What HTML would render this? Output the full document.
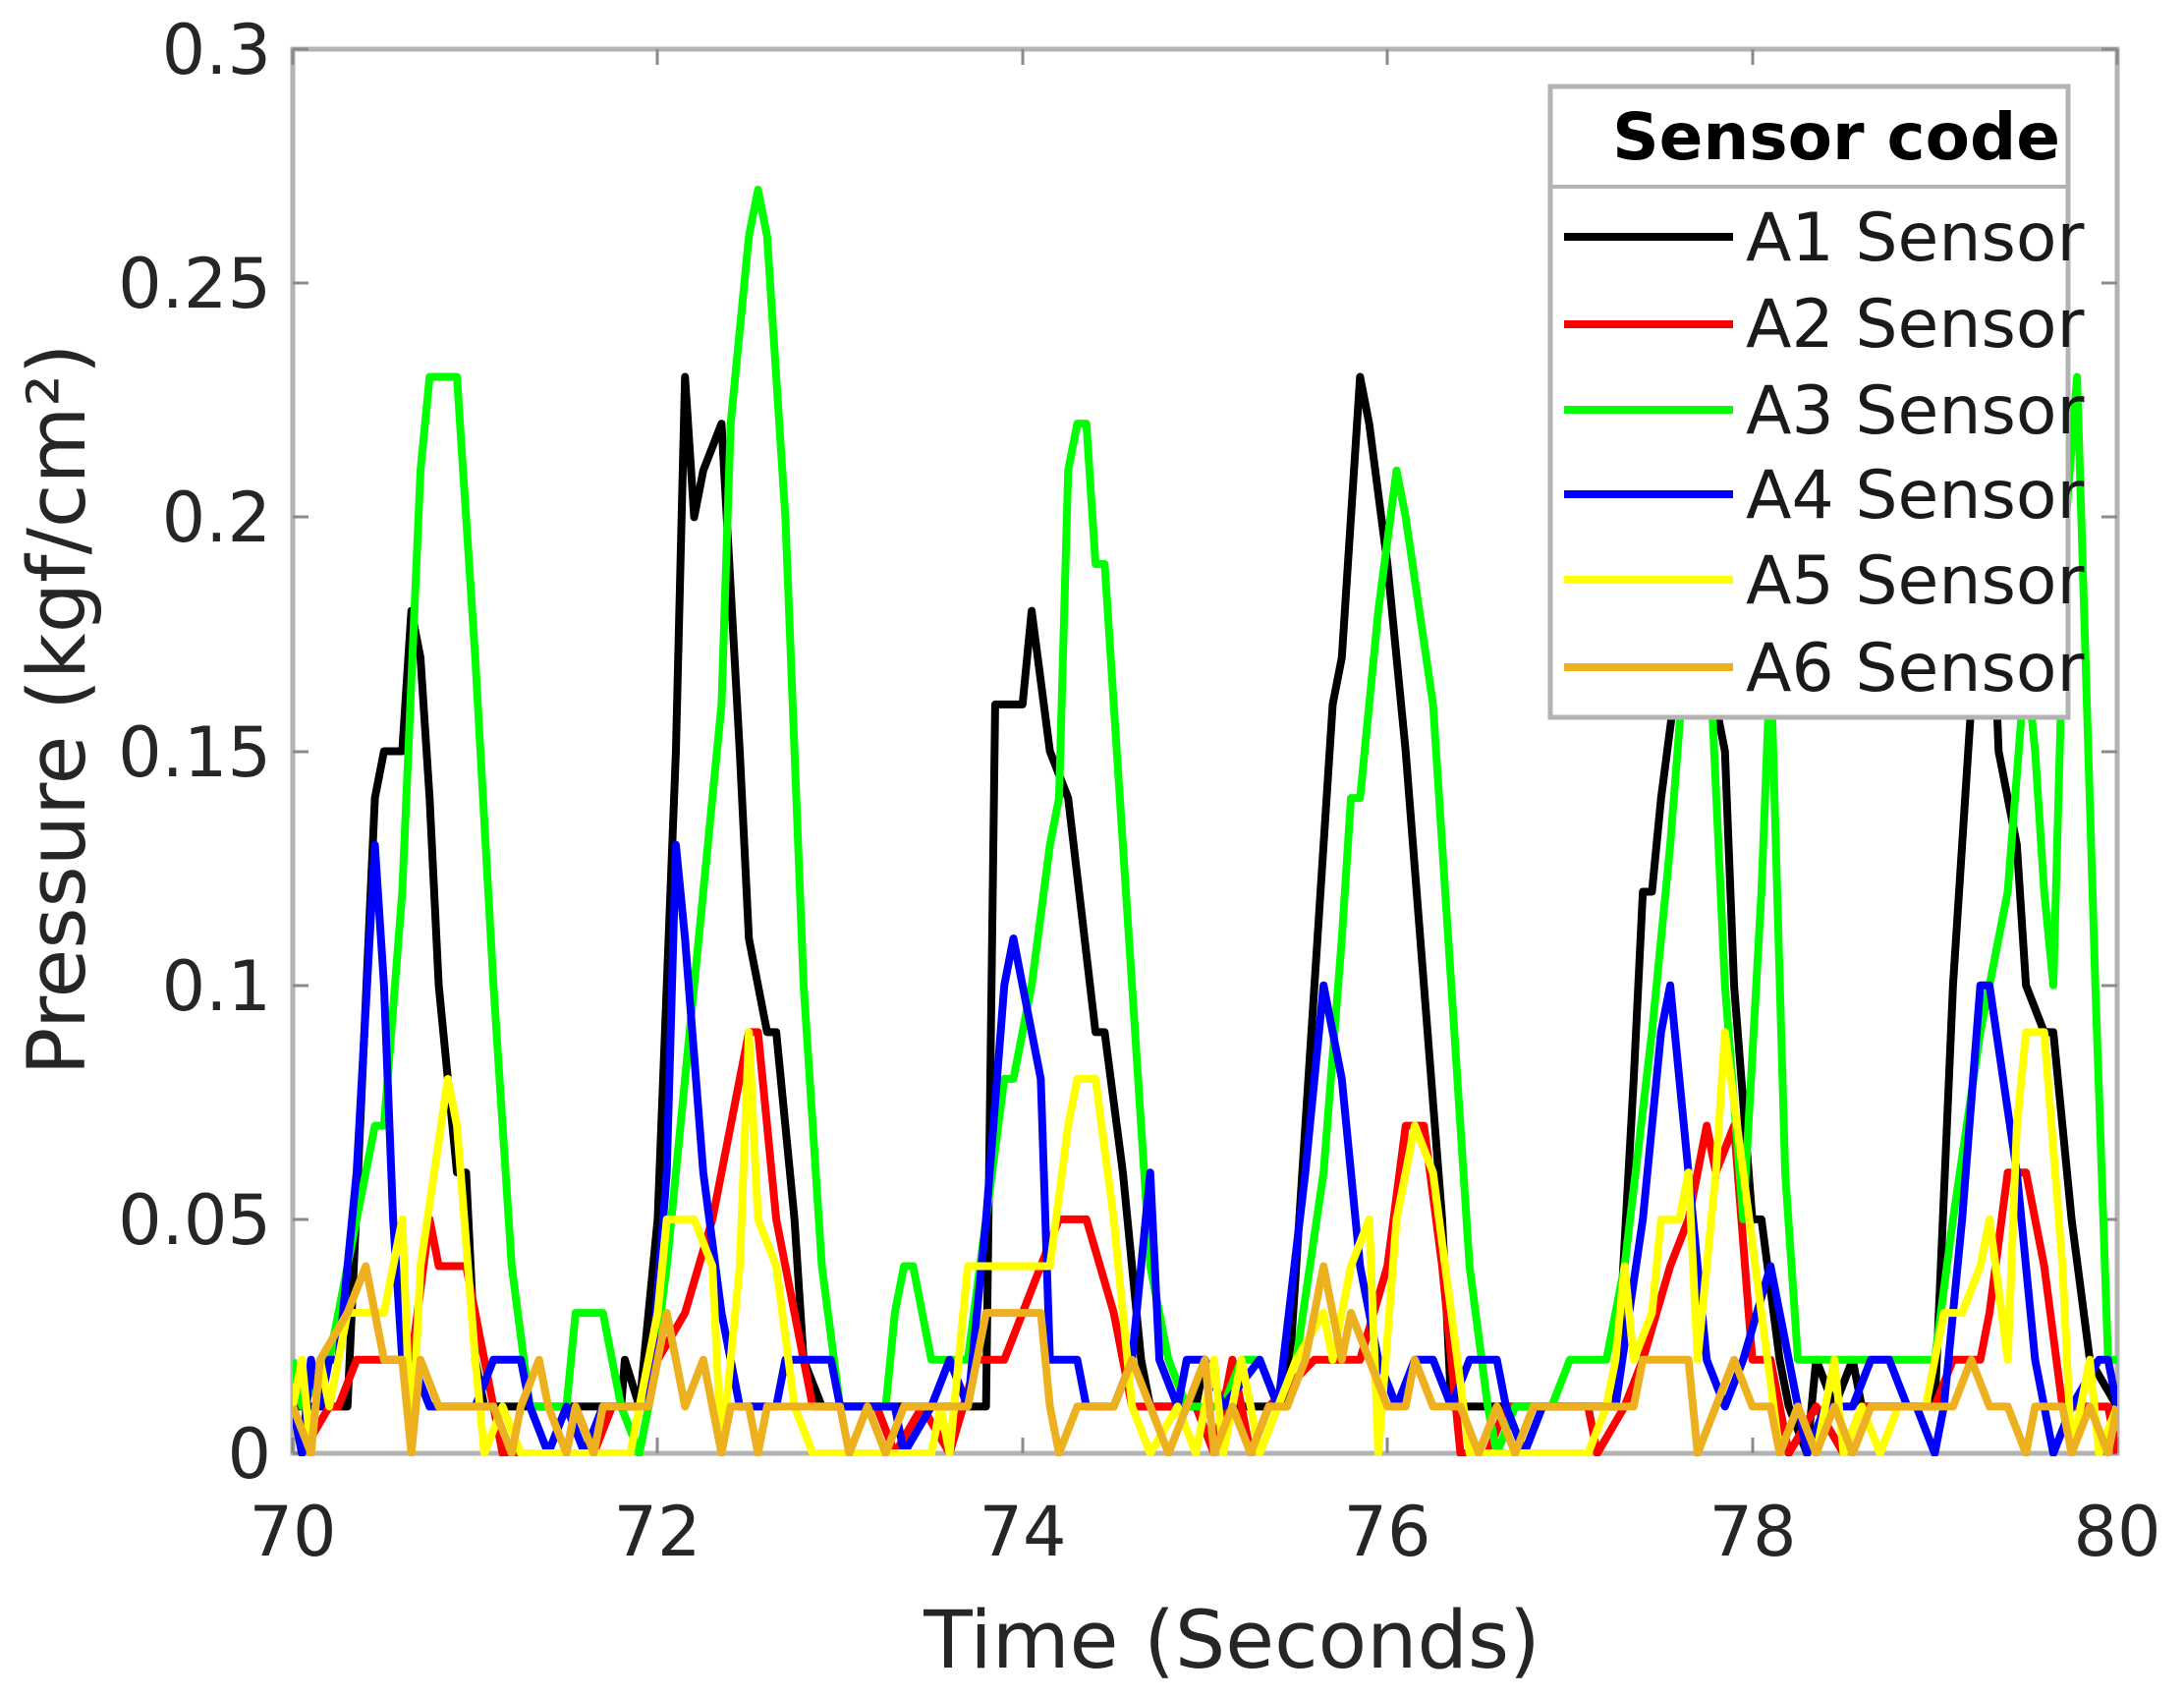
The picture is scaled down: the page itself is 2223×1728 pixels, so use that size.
<!DOCTYPE html>
<html><head><meta charset="utf-8"><style>
html,body{margin:0;padding:0;background:#fff;}
svg{display:block;font-family:"DejaVu Sans","Liberation Sans",sans-serif;}
</style></head><body>
<svg width="2223" height="1728" viewBox="0 0 2223 1728" xmlns="http://www.w3.org/2000/svg">
<defs><clipPath id="c"><rect x="298" y="50" width="1857" height="1432"/></clipPath></defs>
<rect x="298" y="50" width="1857" height="1429" fill="#fff" stroke="#b3b3b3" stroke-width="5"/>
<g stroke="#8a8a8a" stroke-width="3">
<path d="M298 1479h16M298 1241h16M298 1003h16M298 765h16M298 526h16M298 288h16M298 50h16"/>
<path d="M2155 1479h-16M2155 1241h-16M2155 1003h-16M2155 765h-16M2155 526h-16M2155 288h-16M2155 50h-16"/>
<path d="M298 1479v-16M669 1479v-16M1041 1479v-16M1412 1479v-16M1784 1479v-16M2155 1479v-16"/>
<path d="M298 50v16M669 50v16M1041 50v16M1412 50v16M1784 50v16M2155 50v16"/>
</g>
<g clip-path="url(#c)" fill="none" stroke-width="8" stroke-linejoin="round">
<g transform="translate(298,1479) scale(185.7,-4.763)">
<polyline vector-effect="non-scaling-stroke" stroke="#000" points="0,10 0.3,10 0.45,140 0.5,150 0.6,150 0.65,180 0.7,170 0.75,140 0.8,100 0.9,60 0.95,60 1.0,20 1.05,10 1.8,10 1.82,20 1.9,10 2.0,50 2.1,150 2.15,230 2.2,200 2.25,210 2.35,220 2.45,150 2.5,110 2.6,90 2.65,90 2.75,50 2.8,20 2.9,10 3.8,10 3.85,160 4.0,160 4.05,180 4.15,150 4.25,140 4.4,90 4.45,90 4.55,60 4.65,20 4.7,10 4.95,10 5.0,20 5.1,10 5.45,10 5.6,100 5.7,160 5.75,170 5.85,230 5.9,220 6.0,190 6.1,150 6.2,100 6.3,50 6.35,10 7.25,10 7.35,80 7.4,120 7.45,120 7.5,140 7.6,170 7.7,200 7.75,170 7.85,150 7.9,100 8.0,50 8.05,50 8.15,20 8.2,10 8.3,0 8.35,20 8.45,10 8.55,20 8.6,10 9.0,10 9.1,100 9.2,160 9.3,200 9.35,150 9.45,130 9.5,100 9.6,90 9.65,90 9.75,50 9.85,20 10,10"/>
<polyline vector-effect="non-scaling-stroke" stroke="#ff0000" points="0,10 0.05,0 0.2,10 0.25,10 0.35,20 0.65,20 0.75,50 0.8,40 0.95,40 1.05,20 1.15,0 1.5,0 1.55,10 1.65,0 1.75,10 1.95,10 2.0,20 2.15,30 2.3,50 2.4,70 2.5,90 2.55,90 2.65,50 2.75,30 2.85,10 3.2,10 3.3,0 3.45,10 3.6,0 3.75,20 3.9,20 4.0,30 4.1,40 4.2,50 4.35,50 4.5,30 4.6,10 4.95,10 5.05,0 5.15,20 5.25,0 5.35,10 5.6,20 5.85,20 6.0,40 6.1,70 6.2,70 6.3,40 6.4,0 6.55,0 6.65,10 7.1,10 7.15,0 7.3,10 7.4,20 7.55,40 7.65,50 7.75,70 7.8,60 7.9,70 8.0,20 8.1,20 8.2,0 8.35,10 8.5,0 8.6,10 9.0,10 9.1,20 9.25,20 9.3,30 9.4,60 9.5,60 9.6,40 9.7,10 9.95,10 10,0"/>
<polyline vector-effect="non-scaling-stroke" stroke="#00ff00" points="0,20 0.05,10 0.2,20 0.45,70 0.5,70 0.6,120 0.7,210 0.75,230 0.9,230 1.0,170 1.1,100 1.2,40 1.3,10 1.5,10 1.55,30 1.7,30 1.8,10 1.9,0 1.95,10 2.05,40 2.15,80 2.3,140 2.35,160 2.4,220 2.5,260 2.55,270 2.6,260 2.7,200 2.8,100 2.9,40 3.0,10 3.25,10 3.3,30 3.35,40 3.4,40 3.5,20 3.7,20 3.8,50 3.9,80 3.95,80 4.05,100 4.15,130 4.2,140 4.25,210 4.3,220 4.35,220 4.4,190 4.45,190 4.6,100 4.7,40 4.8,20 4.9,10 5.1,10 5.2,20 5.3,20 5.4,10 5.5,20 5.65,60 5.75,110 5.8,140 5.85,140 5.95,180 6.05,210 6.1,200 6.25,160 6.35,100 6.45,40 6.55,10 6.6,0 6.7,10 6.9,10 7.0,20 7.2,20 7.3,40 7.45,90 7.55,130 7.65,180 7.72,210 7.85,100 7.95,50 8.05,120 8.1,170 8.18,60 8.25,20 9.0,20 9.1,50 9.25,90 9.3,100 9.4,120 9.5,170 9.55,150 9.6,120 9.65,100 9.72,200 9.78,230 9.88,100 9.95,20 10,20"/>
<polyline vector-effect="non-scaling-stroke" stroke="#0000ff" points="0,10 0.05,0 0.1,20 0.15,10 0.2,20 0.25,20 0.35,60 0.45,130 0.5,100 0.55,50 0.6,20 0.65,20 0.75,10 1.0,10 1.1,20 1.25,20 1.3,10 1.4,0 1.5,10 1.6,0 1.7,10 1.95,10 2.05,60 2.1,130 2.15,110 2.25,60 2.35,30 2.45,10 2.65,10 2.7,20 2.95,20 3.0,10 3.3,10 3.35,0 3.5,10 3.6,20 3.7,10 3.8,50 3.9,100 3.95,110 4.0,100 4.1,80 4.15,20 4.3,20 4.35,10 4.5,10 4.6,20 4.7,60 4.75,20 4.85,10 4.9,20 5.0,20 5.1,10 5.3,20 5.4,10 5.55,60 5.65,100 5.7,90 5.75,80 5.85,40 5.95,20 6.05,10 6.15,20 6.25,20 6.35,10 6.45,20 6.6,20 6.65,10 6.75,0 6.85,10 7.25,10 7.4,50 7.5,90 7.55,100 7.65,60 7.75,20 7.85,10 7.95,20 8.1,40 8.2,20 8.3,0 8.4,10 8.55,10 8.65,20 8.75,20 8.85,10 8.9,10 9.0,0 9.05,10 9.15,50 9.25,100 9.3,100 9.45,60 9.55,20 9.65,0 9.75,10 9.9,20 9.95,20 10,10"/>
<polyline vector-effect="non-scaling-stroke" stroke="#ffff00" points="0,10 0.05,20 0.1,0 0.15,20 0.2,10 0.3,30 0.5,30 0.6,50 0.65,0 0.7,40 0.85,80 0.9,70 1.0,20 1.05,0 1.15,10 1.25,0 1.85,0 1.9,10 2.0,30 2.05,50 2.2,50 2.3,40 2.35,0 2.45,40 2.5,90 2.55,50 2.65,40 2.75,10 2.85,0 3.5,0 3.55,10 3.6,0 3.7,40 4.15,40 4.25,70 4.3,80 4.4,80 4.5,50 4.6,10 4.7,0 4.85,10 4.95,0 5.05,20 5.1,0 5.2,20 5.3,0 5.4,10 5.5,20 5.65,30 5.7,20 5.8,40 5.9,50 5.95,0 6.05,50 6.15,70 6.25,60 6.35,30 6.45,0 7.1,0 7.2,10 7.25,20 7.3,40 7.35,20 7.45,30 7.5,50 7.6,50 7.65,60 7.7,20 7.8,60 7.85,90 7.95,60 8.05,30 8.15,0 8.25,10 8.35,0 8.45,20 8.5,0 8.6,10 8.7,0 8.8,10 8.95,10 9.05,30 9.15,30 9.25,40 9.3,50 9.4,20 9.45,70 9.5,90 9.6,90 9.7,40 9.75,0 9.85,20 9.9,0 10,10"/>
<polyline vector-effect="non-scaling-stroke" stroke="#edb120" points="0,10 0.1,0 0.15,20 0.3,30 0.4,40 0.5,20 0.6,20 0.65,0 0.7,20 0.8,10 1.1,10 1.2,0 1.25,10 1.35,20 1.4,10 1.5,0 1.55,10 1.65,0 1.7,10 1.95,10 2.05,30 2.1,20 2.15,10 2.25,20 2.35,0 2.4,10 2.5,10 2.55,0 2.6,10 3.0,10 3.05,0 3.15,10 3.25,0 3.35,10 3.7,10 3.8,30 4.1,30 4.15,10 4.2,0 4.3,10 4.5,10 4.6,20 4.7,10 4.8,0 4.9,10 5.0,20 5.05,0 5.15,10 5.25,0 5.35,10 5.45,10 5.55,20 5.65,40 5.75,20 5.8,30 5.9,20 6.0,10 6.1,10 6.15,20 6.25,10 6.4,10 6.5,0 6.6,10 6.7,0 6.8,10 7.35,10 7.4,20 7.65,20 7.7,0 7.8,10 7.9,20 8.0,10 8.1,10 8.15,0 8.25,10 8.35,0 8.45,10 8.55,0 8.65,10 9.1,10 9.2,20 9.3,10 9.4,10 9.5,0 9.55,10 9.7,10 9.75,0 9.85,10 9.95,0 10,10"/>
</g></g>
<g font-size="70" fill="#262626" text-anchor="end">
<text x="276" y="1504">0</text><text x="276" y="1266">0.05</text><text x="276" y="1028">0.1</text><text x="276" y="790">0.15</text><text x="276" y="551">0.2</text><text x="276" y="313">0.25</text><text x="276" y="75">0.3</text>
</g>
<g font-size="70" fill="#262626" text-anchor="middle">
<text x="298" y="1583">70</text><text x="669" y="1583">72</text><text x="1041" y="1583">74</text><text x="1412" y="1583">76</text><text x="1784" y="1583">78</text><text x="2155" y="1583">80</text>
<text x="1254" y="1697" font-size="81">Time (Seconds)</text>
<text transform="translate(86,722) rotate(-90)" font-size="81">Pressure (kgf/cm²)</text>
</g>
<rect x="1578" y="88" width="527" height="642" fill="#fff" stroke="#b3b3b3" stroke-width="5"/>
<line x1="1578" y1="190" x2="2105" y2="190" stroke="#b3b3b3" stroke-width="4"/>
<text x="2097" y="162" font-size="66" font-weight="bold" text-anchor="end" fill="#000">Sensor code</text>
<g stroke-width="8">
<line x1="1592" y1="241" x2="1764" y2="241" stroke="#000"/>
<line x1="1592" y1="330" x2="1764" y2="330" stroke="#ff0000"/>
<line x1="1592" y1="417" x2="1764" y2="417" stroke="#00ff00"/>
<line x1="1592" y1="503" x2="1764" y2="503" stroke="#0000ff"/>
<line x1="1592" y1="590" x2="1764" y2="590" stroke="#ffff00"/>
<line x1="1592" y1="679" x2="1764" y2="679" stroke="#edb120"/>
</g>
<g font-size="68" fill="#1a1a1a">
<text x="1777" y="265">A1 Sensor</text><text x="1777" y="353">A2 Sensor</text><text x="1777" y="441">A3 Sensor</text><text x="1777" y="527">A4 Sensor</text><text x="1777" y="614">A5 Sensor</text><text x="1777" y="703">A6 Sensor</text>
</g>
</svg>
</body></html>
